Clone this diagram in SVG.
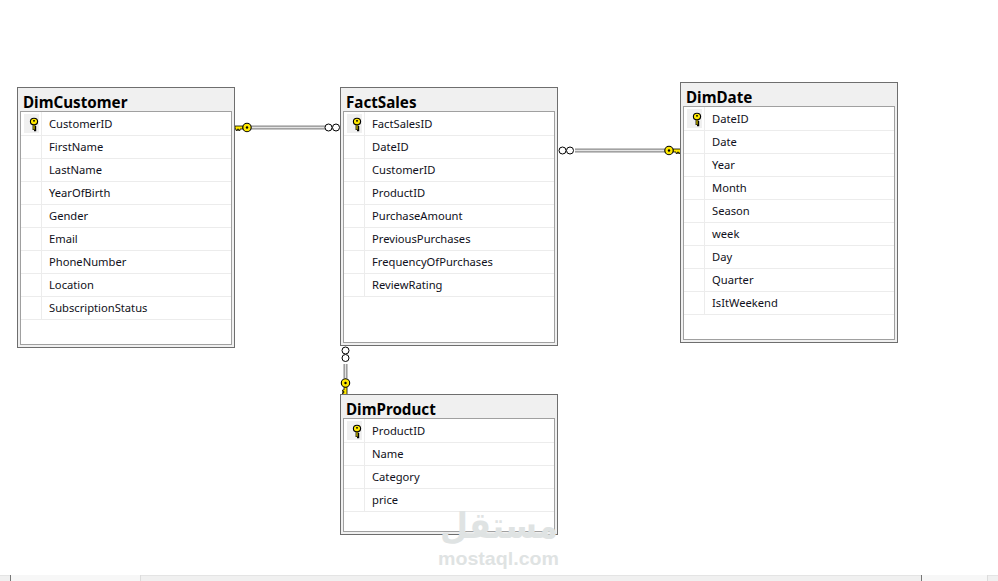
<svg xmlns="http://www.w3.org/2000/svg" xmlns:xlink="http://www.w3.org/1999/xlink" width="998" height="581" viewBox="0 0 998 581">
<style>
.outer{fill:#f0f0f0;stroke:#6e6e6e;stroke-width:1}
.inner{fill:#fff;stroke:#a0a0a0;stroke-width:1}
.sep{stroke:#ececec;stroke-width:1;fill:none}
.title{font:bold 15.2px "Noto Sans","Open Sans",sans-serif;fill:#000}
.row{font:11.2px "Noto Sans","Open Sans",sans-serif;fill:#101020}
.k{fill:#f0f0f0}
.ln{stroke:#8c8c8c;stroke-width:4;fill:none}
.ln2{stroke:#e4e4e4;stroke-width:1.4;fill:none}
.crow{fill:#fff;stroke:#000;stroke-width:1}
.wm{fill:#dfe3e3}
</style>
<defs>
<g id="pk"><path d="M0 0.500V6M0 3.500H2.200M0 5.800H2.200" stroke="#000" stroke-width="2.800" fill="none"/><path d="M0 0.500V5.500" stroke="#ffe800" stroke-width="1.100"/><ellipse cx="0" cy="-2.500" rx="3.600" ry="3.300" fill="#ffe800" stroke="#000" stroke-width="1.100"/><rect x="-1" y="-3.800" width="2" height="1.300" fill="#000"/></g>
<g id="bigkey"><path d="M4 -1.500H12V1.500H11V3H9.500V1.500H8.500V3H7V1.500H4Z" fill="#ffe800" stroke="#000" stroke-width="0.800"/><circle cx="0" cy="0" r="4.200" fill="#ffe800" stroke="#000" stroke-width="1.100"/><circle cx="0" cy="0" r="1.200" fill="#000"/></g>
</defs>
<rect width="998" height="581" fill="#fff"/>
<g id="connectors">
<g id="c1"><path class="ln" d="M250 127.500H325"/><path class="ln2" d="M250 127.500H325"/><circle class="crow" cx="328.500" cy="127.500" r="3.500"/><circle class="crow" cx="336" cy="127.500" r="3.500"/><use xlink:href="#bigkey" transform="translate(247 127.500) scale(-1 1)"/></g>
<g id="c2"><path class="ln" d="M575 150.500H665"/><path class="ln2" d="M575 150.500H665"/><circle class="crow" cx="562.500" cy="150.500" r="3.500"/><circle class="crow" cx="570" cy="150.500" r="3.500"/><use xlink:href="#bigkey" transform="translate(669 150.500)"/></g>
<g id="c3"><path class="ln" d="M345.500 364V378"/><path class="ln2" d="M345.500 364V378"/><circle class="crow" cx="345.500" cy="350.500" r="3.500"/><circle class="crow" cx="345.500" cy="358" r="3.500"/><use xlink:href="#bigkey" transform="translate(345.500 383) rotate(90)"/></g>
</g>
<g id="DimCustomer">
<rect class="outer" x="17.500" y="87.500" width="217" height="260"/>
<rect class="inner" x="20.500" y="111.500" width="211" height="233"/>
<text class="title" x="23" y="108">DimCustomer</text>
<rect class="k" x="24" y="114" width="15" height="19"/>
<use xlink:href="#pk" transform="translate(34 124)"/>
<path class="sep" d="M21 135.500H231M21 158.500H231M21 181.500H231M21 204.500H231M21 227.500H231M21 250.500H231M21 273.500H231M21 296.500H231M21 319.500H231M41.500 112V320"/>
<text class="row" x="49" y="128">CustomerID</text>
<text class="row" x="49" y="151">FirstName</text>
<text class="row" x="49" y="174">LastName</text>
<text class="row" x="49" y="197">YearOfBirth</text>
<text class="row" x="49" y="220">Gender</text>
<text class="row" x="49" y="243">Email</text>
<text class="row" x="49" y="266">PhoneNumber</text>
<text class="row" x="49" y="289">Location</text>
<text class="row" x="49" y="312">SubscriptionStatus</text>
</g>
<g id="FactSales">
<rect class="outer" x="340.500" y="87.500" width="217" height="258"/>
<rect class="inner" x="343.500" y="111.500" width="211" height="231"/>
<text class="title" x="346" y="108">FactSales</text>
<rect class="k" x="347" y="114" width="15" height="19"/>
<use xlink:href="#pk" transform="translate(357 124)"/>
<path class="sep" d="M344 135.500H554M344 158.500H554M344 181.500H554M344 204.500H554M344 227.500H554M344 250.500H554M344 273.500H554M344 296.500H554M364.500 112V297"/>
<text class="row" x="372" y="128">FactSalesID</text>
<text class="row" x="372" y="151">DateID</text>
<text class="row" x="372" y="174">CustomerID</text>
<text class="row" x="372" y="197">ProductID</text>
<text class="row" x="372" y="220">PurchaseAmount</text>
<text class="row" x="372" y="243">PreviousPurchases</text>
<text class="row" x="372" y="266">FrequencyOfPurchases</text>
<text class="row" x="372" y="289">ReviewRating</text>
</g>
<g id="DimDate">
<rect class="outer" x="680.500" y="82.500" width="217" height="260"/>
<rect class="inner" x="683.500" y="106.500" width="211" height="233"/>
<text class="title" x="686" y="103">DimDate</text>
<rect class="k" x="687" y="109" width="15" height="19"/>
<use xlink:href="#pk" transform="translate(697 119)"/>
<path class="sep" d="M684 130.500H894M684 153.500H894M684 176.500H894M684 199.500H894M684 222.500H894M684 245.500H894M684 268.500H894M684 291.500H894M684 314.500H894M704.500 107V315"/>
<text class="row" x="712" y="123">DateID</text>
<text class="row" x="712" y="146">Date</text>
<text class="row" x="712" y="169">Year</text>
<text class="row" x="712" y="192">Month</text>
<text class="row" x="712" y="215">Season</text>
<text class="row" x="712" y="238">week</text>
<text class="row" x="712" y="261">Day</text>
<text class="row" x="712" y="284">Quarter</text>
<text class="row" x="712" y="307">IsItWeekend</text>
</g>
<g id="DimProduct">
<rect class="outer" x="340.500" y="394.500" width="217" height="140"/>
<rect class="inner" x="343.500" y="418.500" width="211" height="113"/>
<text class="title" x="346" y="415">DimProduct</text>
<rect class="k" x="347" y="421" width="15" height="19"/>
<use xlink:href="#pk" transform="translate(357 431)"/>
<path class="sep" d="M344 442.500H554M344 465.500H554M344 488.500H554M344 511.500H554M364.500 419V512"/>
<text class="row" x="372" y="435">ProductID</text>
<text class="row" x="372" y="458">Name</text>
<text class="row" x="372" y="481">Category</text>
<text class="row" x="372" y="504">price</text>
</g>
<text class="wm" x="440" y="538" textLength="118" lengthAdjust="spacingAndGlyphs" style="font:bold 36px 'DejaVu Sans',sans-serif">مستقل</text>
<text class="wm" x="438" y="565" textLength="121" lengthAdjust="spacingAndGlyphs" style="font:bold 19px 'Liberation Sans',sans-serif">mostaql.com</text>
<g id="scrollbar">
<rect x="0" y="575" width="998" height="6" fill="#f0f0f0"/>
<path d="M0 575.500H998" stroke="#e4e4e4"/>
<rect x="11" y="575" width="129" height="6" fill="#f7f7f7"/>
<rect x="921" y="575" width="66" height="6" fill="#f7f7f7"/>
<path d="M10.500 575V581M921.500 575V581" stroke="#777"/>
<path d="M140.500 575V581" stroke="#dcdcdc"/>
<path d="M987.500 575V581" stroke="#dcdcdc"/>
</g>
</svg>
